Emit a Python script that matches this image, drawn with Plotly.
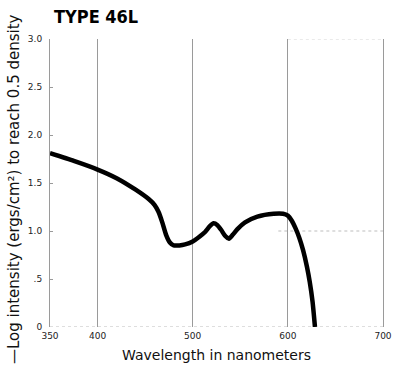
import plotly.graph_objects as go

# Spectral sensitivity curve for Type 46L film
wavelength = [350, 375, 400, 420, 440, 454, 460, 464, 468, 472, 476, 480, 486,
              492, 500, 507, 513, 518, 522, 526, 530, 534, 538, 542, 547, 555,
              568, 585, 595, 600, 604, 608, 612, 616, 620, 623, 626, 628.5]
log_intensity = [1.81, 1.73, 1.64, 1.55, 1.43, 1.33, 1.27, 1.20, 1.09, 0.96, 0.88,
                 0.85, 0.85, 0.86, 0.89, 0.94, 0.99, 1.05, 1.08, 1.06, 1.01, 0.95,
                 0.92, 0.96, 1.02, 1.09, 1.15, 1.18, 1.18, 1.16, 1.11, 1.03, 0.93,
                 0.80, 0.63, 0.47, 0.26, 0.0]

x_ticks = [350, 400, 500, 600, 700]
x_tick_text = ["350", "400", "500", "600", "700"]
y_ticks = [0, 0.5, 1.0, 1.5, 2.0, 2.5, 3.0]
y_tick_text = ["0", ".5", "1.0", "1.5", "2.0", "2.5", "3.0"]

fig = go.Figure()
fig.add_trace(go.Scatter(
    x=wavelength, y=log_intensity, mode="lines",
    line=dict(color="black", width=4.5, shape="spline", smoothing=0.5),
    hoverinfo="skip", showlegend=False,
))

grid_color = "#9a9a9a"
fig.update_xaxes(
    range=[350, 700], tickvals=x_ticks, ticktext=x_tick_text,
    showgrid=True, gridcolor=grid_color, gridwidth=1,
    showline=False, zeroline=False, ticks="",
    tickfont=dict(family="DejaVu Sans", size=9, color="#222"),
    ticklabelstandoff=2,
)
fig.update_yaxes(
    range=[0, 3.0], tickvals=y_ticks, ticktext=y_tick_text,
    showgrid=False, zeroline=False,
    showline=True, mirror=True, linecolor=grid_color, linewidth=1,
    ticks="inside", ticklen=3, tickcolor=grid_color,
    tickfont=dict(family="DejaVu Sans", size=9, color="#222"),
    ticklabelstandoff=5,
)

# faint dotted reference lines
dotted = dict(color="#bdbdbd", width=1, dash="dot")
fig.add_shape(type="line", xref="x", yref="y", x0=350, x1=700, y0=0, y1=0, line=dotted, layer="below")
fig.add_shape(type="line", xref="x", yref="y", x0=590, x1=700, y0=1.0, y1=1.0, line=dotted, layer="below")
fig.add_shape(type="line", xref="x", yref="y", x0=600, x1=700, y0=3.0, y1=3.0,
              line=dict(color="#d5d5d5", width=1, dash="dot"), layer="below")

fig.add_annotation(
    text="TYPE 46L", xref="paper", yref="paper", x=0.0, xshift=2, y=1.0, yshift=23,
    xanchor="left", yanchor="middle", showarrow=False,
    font=dict(family="DejaVu Sans Condensed, DejaVu Sans", size=18, color="black", weight="bold"),
)
fig.add_annotation(
    text="Wavelength in nanometers", xref="paper", yref="paper", x=0.5, y=0, yshift=-28,
    xanchor="center", yanchor="middle", showarrow=False,
    font=dict(family="DejaVu Sans", size=14, color="#111"),
)
fig.add_annotation(
    text="—Log intensity (ergs/cm²) to reach 0.5 density", xref="paper", yref="paper",
    x=0, xshift=-36, y=0.5, yshift=-6, textangle=-90,
    xanchor="center", yanchor="middle", showarrow=False,
    font=dict(family="DejaVu Sans", size=15, color="#111"),
)

fig.update_layout(
    width=404, height=371,
    margin=dict(l=50, r=17, t=39, b=44),
    paper_bgcolor="white", plot_bgcolor="white",
)
fig.write_html("out.html")
